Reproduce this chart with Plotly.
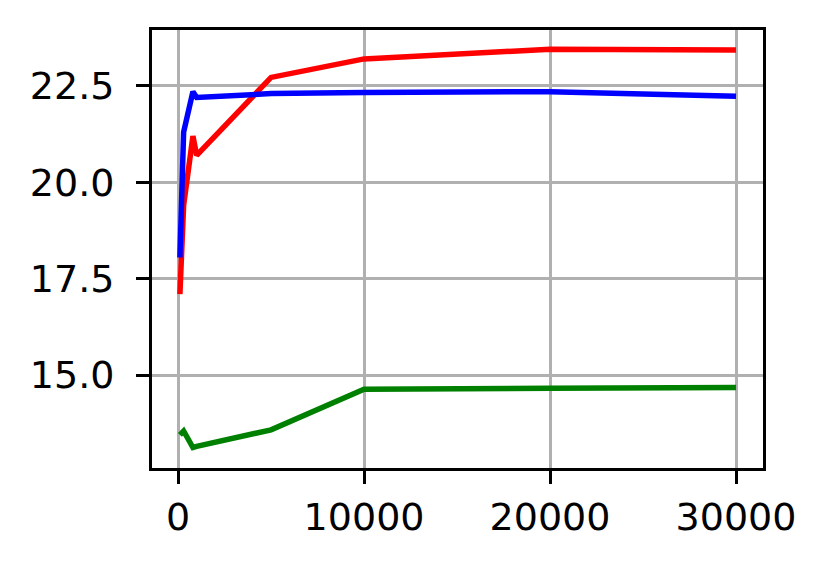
import plotly.graph_objects as go

steps = [100, 300, 800, 1000, 5000, 10000, 20000, 30000]
red_vals = [17.1, 19.4, 21.2, 20.7, 22.72, 23.2, 23.45, 23.43]
blue_vals = [18.05, 21.3, 22.35, 22.2, 22.3, 22.33, 22.35, 22.23]
green_vals = [13.45, 13.55, 13.12, 13.15, 13.58, 14.63, 14.66, 14.68]

fig = go.Figure()
for vals, col in [(red_vals, "red"), (blue_vals, "blue"), (green_vals, "green")]:
    fig.add_trace(go.Scatter(x=steps, y=vals, mode="lines",
                             line=dict(color=col, width=5.5), showlegend=False))

axis_style = dict(showgrid=True, gridcolor="#b0b0b0", gridwidth=2.5,
                  showline=True, linecolor="black", linewidth=3, mirror=True,
                  ticks="outside", ticklen=13, tickwidth=3, tickcolor="black",
                  zeroline=False,
                  tickfont=dict(family="DejaVu Sans", size=38, color="black"))

# page body has an 8px margin, so the figure is offset by it
fig.update_layout(
    width=824, height=561,
    margin=dict(l=144, r=69, t=22, b=101),
    plot_bgcolor="white", paper_bgcolor="white",
    xaxis=dict(range=[-1400, 31450], tickvals=[0, 10000, 20000, 30000],
               ticktext=["0", "10000", "20000", "30000"],
               ticklabelstandoff=0, **axis_style),
    yaxis=dict(range=[12.59, 23.95], tickvals=[15.0, 17.5, 20.0, 22.5],
               ticktext=["15.0", "17.5", "20.0", "22.5"],
               ticklabelstandoff=14, **axis_style),
)

fig.write_html("out.html")
